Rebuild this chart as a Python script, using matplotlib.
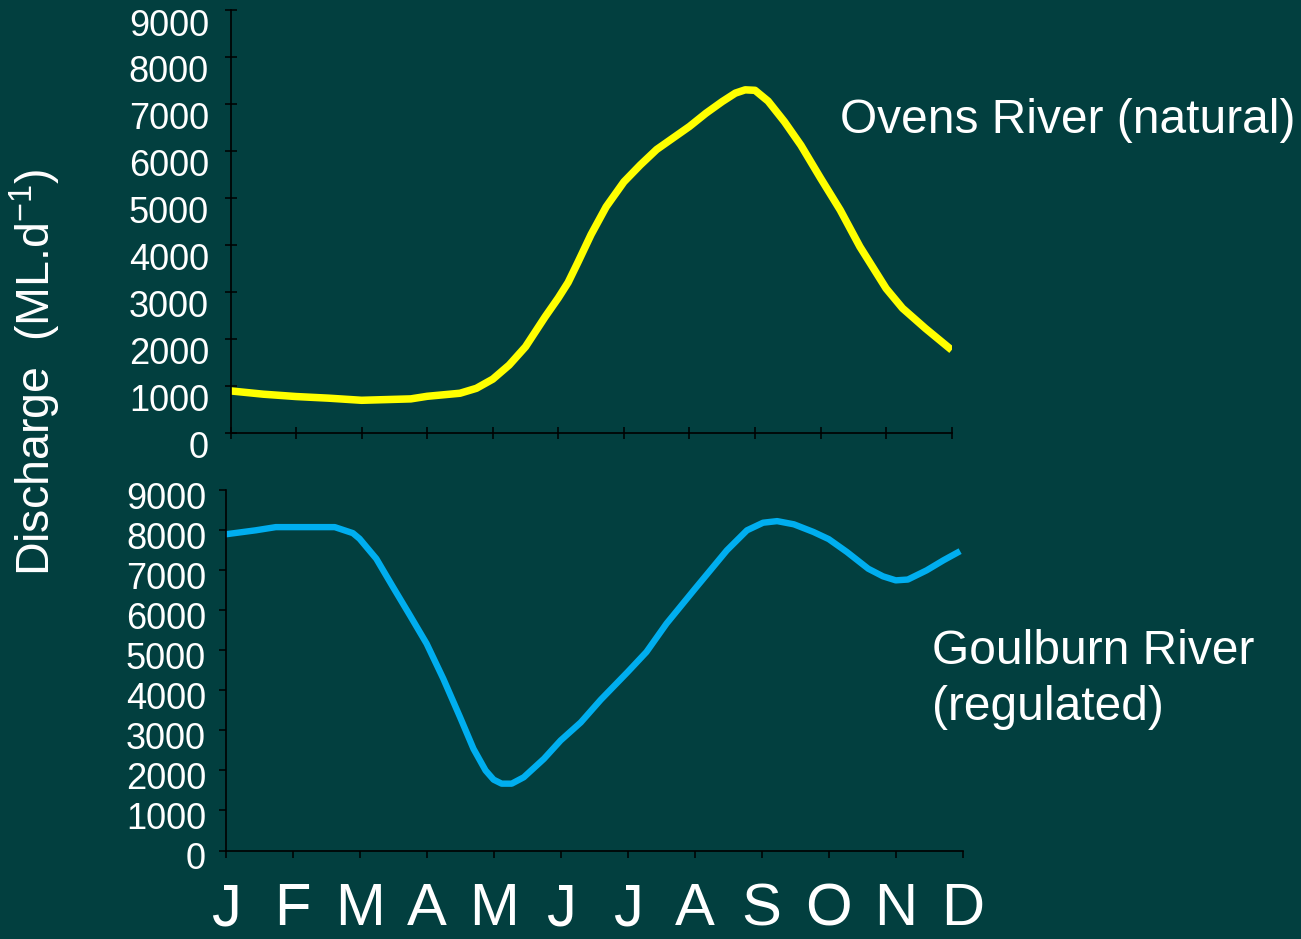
import matplotlib.pyplot as plt
from matplotlib.transforms import ScaledTranslation

# monthly discharge (ML/d), x positions in months from January (0) to December (11)
months = ["J", "F", "M", "A", "M", "J", "J", "A", "S", "O", "N", "D"]

ovens_x = [0, 0.5, 1, 1.5, 2, 2.75, 3, 3.5, 3.75, 4, 4.25, 4.5, 4.8, 5, 5.15,
           5.3, 5.5, 5.73, 6, 6.25, 6.5, 7, 7.25, 7.5, 7.7, 7.85, 8, 8.2, 8.45,
           8.7, 9, 9.3, 9.6, 10, 10.25, 10.6, 11]
ovens_q = [890, 820, 770, 735, 690, 720, 775, 840, 945, 1140, 1440, 1830, 2470,
           2870, 3200, 3630, 4220, 4810, 5340, 5700, 6030, 6520, 6800, 7050,
           7230, 7300, 7290, 7060, 6620, 6120, 5420, 4740, 3960, 3070, 2650,
           2220, 1760]

goulburn_x = [0, 0.45, 0.75, 1.0, 1.63, 1.9, 2.0, 2.25, 2.5, 2.75, 3.0, 3.25,
              3.5, 3.7, 3.88, 4.0, 4.12, 4.27, 4.45, 4.75, 5.0, 5.3, 5.6, 6.0,
              6.28, 6.58, 7.0, 7.48, 7.78, 8.02, 8.23, 8.48, 8.77, 9.0, 9.27,
              9.59, 9.81, 10.0, 10.18, 10.46, 10.71, 10.96]
goulburn_q = [7900, 8000, 8080, 8080, 8080, 7930, 7790, 7290, 6580, 5880, 5170,
              4290, 3330, 2540, 2000, 1770, 1670, 1670, 1830, 2290, 2750, 3200,
              3770, 4460, 4960, 5670, 6530, 7500, 8000, 8190, 8230, 8150, 7960,
              7780, 7460, 7040, 6850, 6750, 6770, 7000, 7250, 7480]

y_ticks = list(range(0, 10000, 1000))

bg = "#023f3f"
plt.rcParams["font.family"] = ["Liberation Sans", "DejaVu Sans"]
plt.rcParams["mathtext.fontset"] = "custom"
plt.rcParams["mathtext.rm"] = "Liberation Sans"

W, H = 1301, 939
fig = plt.figure(figsize=(W / 100, H / 100), dpi=100, facecolor=bg)

def px_axes(left, right, top, bottom):
    return fig.add_axes([left / W, 1 - bottom / H, (right - left) / W, (bottom - top) / H])

ax1 = px_axes(230.5, 951.7, 10, 432.7)
ax2 = px_axes(225.5, 962.8, 490.3, 850.5)

ax1.plot(ovens_x, ovens_q, color="#ffff00", lw=5.4, solid_capstyle="butt")
ax2.plot(goulburn_x, goulburn_q, color="#00aeef", lw=4.6, solid_capstyle="butt")

for ax in (ax1, ax2):
    ax.set_facecolor(bg)
    ax.set_xlim(0, 11)
    ax.set_ylim(0, 9000)
    ax.set_yticks(y_ticks)
    ax.set_xticks(range(12))
    for side in ("top", "right"):
        ax.spines[side].set_visible(False)
    for side in ("left", "bottom"):
        ax.spines[side].set_color("black")
        ax.spines[side].set_linewidth(1.2)
    ax.tick_params(colors="black", labelcolor="white", labelsize=26, width=1.1)

ax1.tick_params(axis="both", direction="inout", length=9)
ax1.tick_params(axis="y", pad=11)
ax1.set_xticklabels([])

ax2.tick_params(axis="both", direction="out", length=5)
ax2.tick_params(axis="y", pad=9)
ax2.tick_params(axis="x", pad=18, labelsize=43)
ax2.set_xticklabels(months)

# y tick labels sit a little below their ticks
for ax, shift in ((ax1, 12), (ax2, 5)):
    for lab in ax.get_yticklabels():
        lab.set_transform(lab.get_transform() + ScaledTranslation(0, -shift / 100, fig.dpi_scale_trans))

fig.text(35 / W, 1 - 372 / H, r"Discharge  (ML.d$^{\mathregular{-1}}$)", rotation=90,
         color="white", fontsize=33.5, ha="center", va="center")

fig.text(840 / W, 1 - 133 / H, "Ovens River (natural)", color="white",
         fontsize=34.5, ha="left", va="baseline")
fig.text(932 / W, 1 - 720 / H, "Goulburn River\n(regulated)", color="white",
         fontsize=34.5, ha="left", va="baseline", linespacing=1.3)

fig.savefig("out.png", dpi=100, facecolor=bg)
